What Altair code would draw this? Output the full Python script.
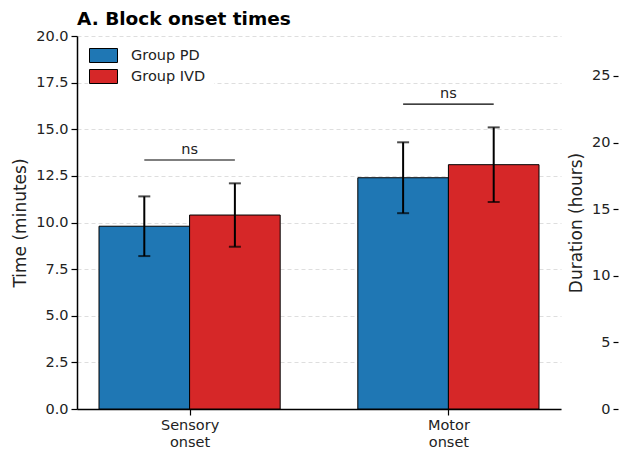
import altair as alt
import pandas as pd
import json

# ---- data ----
categories = ["Sensory onset", "Motor onset"]
groups = ["Group PD", "Group IVD"]
pd_means = [9.8, 12.4]
pd_sd = [1.6, 1.9]
ivd_means = [10.4, 13.1]
ivd_sd = [1.7, 2.0]
sig_labels = ["ns", "ns"]
y_ticks = [0, 2.5, 5, 7.5, 10, 12.5, 15, 17.5, 20]
duration_ticks = [0, 5, 10, 15, 20, 25]

colors = ["#1f77b4", "#d62728"]
BAR_W = 0.35
FS = 14.5

rows = []
for i, cat in enumerate(categories):
    for g, (means, sds) in enumerate([(pd_means, pd_sd), (ivd_means, ivd_sd)]):
        x0 = i - BAR_W if g == 0 else i
        rows.append({
            "cat": cat, "group": groups[g], "mean": means[i], "sd": sds[i],
            "x0": x0, "x1": x0 + BAR_W, "xc": x0 + BAR_W / 2,
            "lo": means[i] - sds[i], "hi": means[i] + sds[i],
        })
df = pd.DataFrame(rows)

sig_rows = []
for i, cat in enumerate(categories):
    top = max(pd_means[i] + pd_sd[i], ivd_means[i] + ivd_sd[i])
    sig_rows.append({"x0": i - BAR_W / 2, "x1": i + BAR_W / 2, "xc": i,
                     "y": top + 1.25, "label": sig_labels[i]})
sig_df = pd.DataFrame(sig_rows)

dur_df = pd.DataFrame({"v": duration_ticks})

label_expr = "split(" + json.dumps(categories).replace('"', "'") + "[datum.value], ' ')"

xscale = alt.Scale(domain=[-0.435, 1.435], nice=False, zero=False)
yscale = alt.Scale(domain=[0, 20], nice=False)

x_axis = alt.Axis(values=[0, 1], labelExpr=label_expr, title=None, grid=False,
                  domainColor="black", domainWidth=1.5, tickColor="black",
                  tickWidth=1.2, tickSize=6, labelFontSize=FS, labelColor="#222",
                  labelPadding=3, labelLineHeight=17)
y_axis = alt.Axis(values=y_ticks, format=".1f", title="Time (minutes)",
                  grid=True, gridDash=[4, 3], gridColor="#dedede", gridWidth=1,
                  domainColor="black", domainWidth=1.5, tickColor="black",
                  tickWidth=1.2, tickSize=6, labelFontSize=FS, labelColor="#222",
                  labelPadding=3, titleFontSize=17, titleFontWeight="normal",
                  titleColor="#222", titlePadding=6)

base = alt.Chart(df)

bars = base.mark_rect(stroke="black", strokeWidth=1).encode(
    x=alt.X("x0:Q", scale=xscale, axis=x_axis),
    x2="x1:Q",
    y=alt.Y("mean:Q", scale=yscale, axis=y_axis),
    y2=alt.datum(0),
    color=alt.Color("group:N", scale=alt.Scale(domain=groups, range=colors),
                    legend=alt.Legend(title=None, orient="none", legendX=11, legendY=4,
                                      symbolType="M-2,-1H2V1H-2Z", symbolSize=196,
                                      symbolStrokeColor="black", symbolStrokeWidth=1,
                                      symbolOpacity=1,
                                      labelFontSize=FS, labelColor="#222",
                                      rowPadding=2, fillColor="white", padding=8,
                                      labelOffset=20)),
)

err = base.mark_rule(color="black", strokeWidth=2).encode(
    x="xc:Q", y="lo:Q", y2="hi:Q")
cap_hi = base.mark_tick(color="black", orient="horizontal", size=12, thickness=2).encode(
    x="xc:Q", y="hi:Q")
cap_lo = base.mark_tick(color="black", orient="horizontal", size=12, thickness=2).encode(
    x="xc:Q", y="lo:Q")

sig_base = alt.Chart(sig_df)
sig_line = sig_base.mark_rule(color="black", strokeWidth=1.2).encode(
    x="x0:Q", x2="x1:Q", y="y:Q")
sig_text = sig_base.mark_text(baseline="bottom", dy=-3, fontSize=FS, color="#222").encode(
    x="xc:Q", y="y:Q", text="label:N")

main = alt.layer(bars, err, cap_hi, cap_lo, sig_line, sig_text)

dur = alt.Chart(dur_df).mark_point(opacity=0).encode(
    y=alt.Y("v:Q", scale=alt.Scale(domain=[0, 28], nice=False),
            axis=alt.Axis(orient="left", offset=-541, values=duration_ticks,
                          title="Duration (hours)", grid=False, domain=False,
                          tickColor="black", tickWidth=1.2, tickSize=5,
                          labelFontSize=FS, labelColor="#222", labelPadding=3,
                          titleFontSize=17, titleFontWeight="normal",
                          titleColor="#222", titlePadding=6))
)

chart = alt.layer(main, dur).resolve_scale(y="independent").properties(
    width=484, height=373,
    title=alt.TitleParams("A. Block onset times", anchor="start", frame="group",
                          fontSize=18.5, fontWeight="bold", color="black", offset=0),
    padding={"left": 3, "top": 1, "right": 0, "bottom": 0},
).configure(font="DejaVu Sans").configure_view(strokeWidth=0, stroke="transparent")

chart.save("out.html", embed_options={"renderer": "svg", "actions": False})
